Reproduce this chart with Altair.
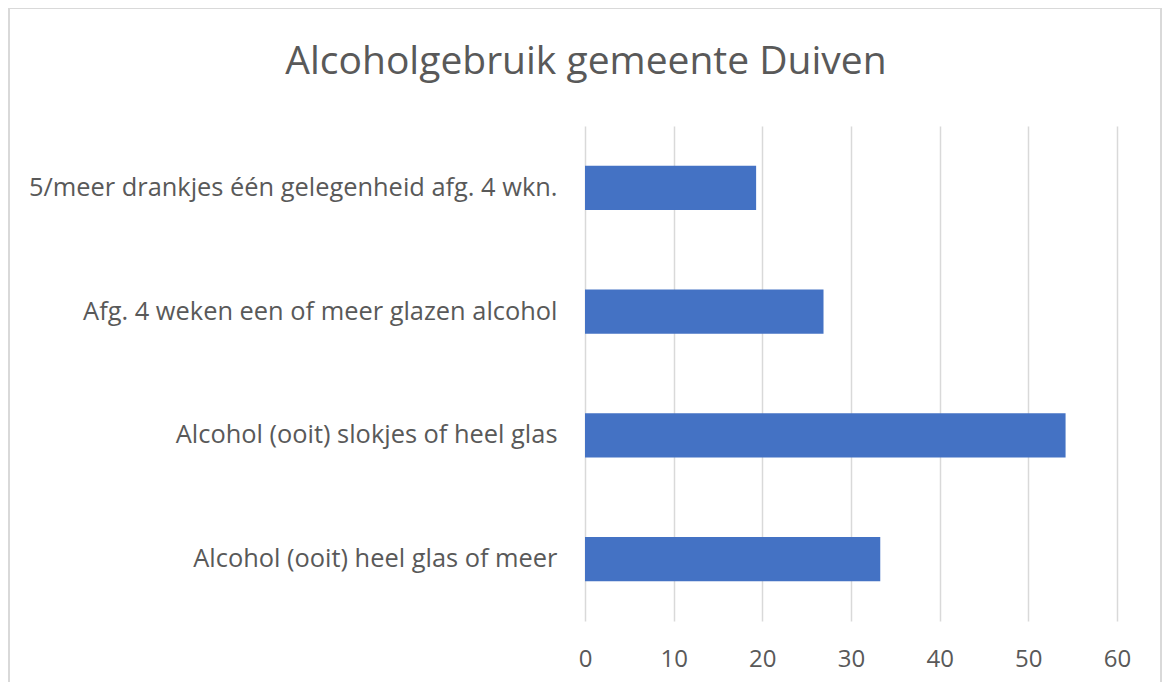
import altair as alt
import pandas as pd

categories = [
    "5/meer drankjes één gelegenheid afg. 4 wkn.",
    "Afg. 4 weken een of meer glazen alcohol",
    "Alcohol (ooit) slokjes of heel glas",
    "Alcohol (ooit) heel glas of meer",
]
values = [19.3, 26.9, 54.2, 33.3]
x_ticks = [0, 10, 20, 30, 40, 50, 60]
title_text = "Alcoholgebruik gemeente Duiven"

df = pd.DataFrame({"cat": categories, "val": values})

FONT = "Open Sans"
GREY = "#595959"
PW, PH = 532, 495
PAD_L, PAD_T = 577, 118
TOTAL_W, TOTAL_H = 1154, 674

bars = alt.Chart(df).mark_bar(color="#4472C4").encode(
    x=alt.X("val:Q", scale=alt.Scale(domain=[0, 60], nice=False),
            axis=alt.Axis(values=x_ticks, title=None, grid=True, gridColor="#d9d9d9",
                          gridWidth=1.5, domain=False, ticks=False, labelFont=FONT,
                          labelFontSize=24, labelColor=GREY, labelPadding=26,
                          labelFlush=False)),
    y=alt.Y("cat:N", sort=None,
            scale=alt.Scale(paddingInner=0.644, paddingOuter=0.322),
            axis=alt.Axis(title=None, domain=False, ticks=False, labelFont=FONT,
                          labelFontSize=25.4, labelColor=GREY, labelPadding=28,
                          labelLimit=600)),
)

frame = alt.Chart(pd.DataFrame({"a": [0]})).mark_rect(
    fill=None, stroke="#d9d9d9", strokeWidth=2, clip=False
).encode(
    x=alt.value(-PAD_L + 1), x2=alt.value(TOTAL_W - PAD_L - 1),
    y=alt.value(-PAD_T + 0), y2=alt.value(TOTAL_H - PAD_T + 10),
)

title = alt.Chart(pd.DataFrame({"t": [title_text]})).mark_text(
    font=FONT, fontSize=39, color=GREY, align="center", baseline="middle"
).encode(
    text="t:N", x=alt.value(578 - PAD_L), y=alt.value(62 - 8 - PAD_T),
)

chart = alt.layer(frame, bars, title).properties(
    width=PW, height=PH,
    autosize=alt.AutoSizeParams(type="none"),
    padding={"left": PAD_L, "top": PAD_T, "right": TOTAL_W - PAD_L - PW, "bottom": TOTAL_H - PAD_T - PH},
).configure_view(stroke=None)

chart.save("out.html", embed_options={"renderer": "svg", "actions": False})
